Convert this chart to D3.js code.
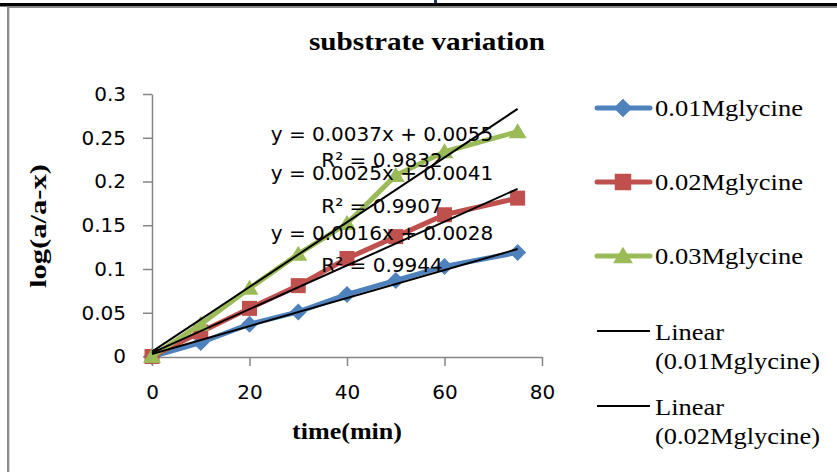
<!DOCTYPE html>
<meta charset="utf-8">
<title>substrate variation</title>
<script src="https://d3js.org/d3.v7.min.js"></script>
<style>
body { margin: 0; background: white; }
svg { display: block; }
</style>
<body>
<div id="my_dataviz"></div>
<script>
// data
var times = [0, 10, 20, 30, 40, 50, 60, 75];
var seriesNames = ["0.01Mglycine", "0.02Mglycine", "0.03Mglycine"];
var glycine001 = [0, 0.016, 0.037, 0.051, 0.071, 0.087, 0.103, 0.119];
var glycine002 = [0, 0.028, 0.055, 0.081, 0.112, 0.137, 0.162, 0.181];
var glycine003 = [0, 0.037, 0.078, 0.117, 0.152, 0.207, 0.234, 0.257];
var slopes = [0.0016, 0.0025, 0.0037];
var intercepts = [0.0028, 0.0041, 0.0055];
var rSquared = ["0.9944", "0.9907", "0.9832"];
var xTicks = [0, 20, 40, 60, 80];
var yTicks = [0, 0.05, 0.1, 0.15, 0.2, 0.25, 0.3];

var colors = ["#4F81BD", "#C0504D", "#9BBB59"];
var shapes = ["diamond", "square", "triangle"];

var width = 837, height = 472;

var svg = d3.select("#my_dataviz")
  .append("svg")
    .attr("width", width)
    .attr("height", height);

// frame bits at top and left
svg.append("rect").attr("x", 0).attr("y", 3).attr("width", width).attr("height", 3.5).attr("fill", "#000");
svg.append("rect").attr("x", 7).attr("y", 6.5).attr("width", width - 7).attr("height", 1.5).attr("fill", "#8c8c8c");
svg.append("rect").attr("x", 7).attr("y", 6.5).attr("width", 2).attr("height", height).attr("fill", "#8c8c8c");
svg.append("rect").attr("x", 9).attr("y", 8).attr("width", 1).attr("height", height).attr("fill", "#d8d8d8");
svg.append("rect").attr("x", 434).attr("y", 0).attr("width", 3).attr("height", 3).attr("fill", "#1f3864");

// scales
var x = d3.scaleLinear().domain([0, 80]).range([152, 542]);
var y = d3.scaleLinear().domain([0, 0.3]).range([356.5, 94]);

var sansFont = "DejaVu Sans";
var serifFont = "Liberation Serif";

// title
svg.append("text")
  .attr("x", 427).attr("y", 50)
  .attr("text-anchor", "middle")
  .attr("font-family", serifFont).attr("font-weight", "bold").attr("font-size", 25)
  .attr("textLength", 236).attr("lengthAdjust", "spacingAndGlyphs")
  .text("substrate variation");

// axes
var yAxis = svg.append("g")
  .attr("transform", "translate(152,0)")
  .call(d3.axisLeft(y).tickValues(yTicks).tickFormat(String).tickSize(9).tickSizeOuter(0).tickPadding(17));
var xAxis = svg.append("g")
  .attr("transform", "translate(0,357)")
  .call(d3.axisBottom(x).tickValues(xTicks).tickSize(9).tickSizeOuter(0).tickPadding(19));

[xAxis, yAxis].forEach(function(g) {
  g.attr("font-family", sansFont).attr("font-size", 20);
  g.selectAll("path, line").attr("stroke", "#868686").attr("stroke-width", 1.5);
  g.selectAll("text").attr("fill", "#000");
});

// axis titles
svg.append("text")
  .attr("x", 347).attr("y", 439)
  .attr("text-anchor", "middle")
  .attr("font-family", serifFont).attr("font-weight", "bold").attr("font-size", 24)
  .attr("textLength", 110).attr("lengthAdjust", "spacingAndGlyphs")
  .text("time(min)");
svg.append("text")
  .attr("transform", "translate(46,226) rotate(-90)")
  .attr("text-anchor", "middle")
  .attr("font-family", serifFont).attr("font-weight", "bold").attr("font-size", 24)
  .attr("textLength", 124).attr("lengthAdjust", "spacingAndGlyphs")
  .text("log(a/a-x)");

// marker shape paths
function markerPath(shape) {
  if (shape == "diamond") return "M0,-8.5L8.5,0L0,8.5L-8.5,0Z";
  if (shape == "square") return "M-7.5,-7.5H7.5V7.5H-7.5Z";
  return "M0,-8.5L9,6.5H-9Z";
}

var allSeries = [glycine001, glycine002, glycine003];

var line = d3.line()
  .x(function(d) { return x(d.t); })
  .y(function(d) { return y(d.v); });

allSeries.forEach(function(vals, i) {
  var pts = times.map(function(t, j) { return {t: t, v: vals[j]}; });
  svg.append("path")
    .datum(pts)
    .attr("fill", "none")
    .attr("stroke", colors[i])
    .attr("stroke-width", 5)
    .attr("stroke-linejoin", "round")
    .attr("d", line);
  svg.append("g")
    .selectAll("path")
    .data(pts)
    .enter()
    .append("path")
      .attr("d", markerPath(shapes[i]))
      .attr("transform", function(d) { return "translate(" + x(d.t) + "," + y(d.v) + ")"; })
      .attr("fill", colors[i]);
});

// linear trendlines
allSeries.forEach(function(vals, i) {
  var t0 = times[0], t1 = times[times.length - 1];
  svg.append("line")
    .attr("x1", x(t0)).attr("y1", y(slopes[i] * t0 + intercepts[i]))
    .attr("x2", x(t1)).attr("y2", y(slopes[i] * t1 + intercepts[i]))
    .attr("stroke", "#000")
    .attr("stroke-width", 2);
});

// trendline equations (placed like the original labels)
var eqBaselines = [[240, 272], [180, 213], [141, 167]];
allSeries.forEach(function(vals, i) {
  svg.append("text")
    .attr("x", 382).attr("y", eqBaselines[i][0])
    .attr("text-anchor", "middle")
    .attr("font-family", sansFont).attr("font-size", 20)
    .text("y = " + slopes[i] + "x + " + intercepts[i]);
  svg.append("text")
    .attr("x", 382).attr("y", eqBaselines[i][1])
    .attr("text-anchor", "middle")
    .attr("font-family", sansFont).attr("font-size", 20)
    .text("R² = " + rSquared[i]);
});

// legend
var legend = svg.append("g");
var legendRows = [108, 182, 256];
seriesNames.forEach(function(name, i) {
  var ly = legendRows[i];
  legend.append("line")
    .attr("x1", 597).attr("x2", 650).attr("y1", ly).attr("y2", ly)
    .attr("stroke", colors[i]).attr("stroke-width", 5).attr("stroke-linecap", "round");
  legend.append("path")
    .attr("d", markerPath(shapes[i]))
    .attr("transform", "translate(623," + ly + ") scale(1.1)")
    .attr("fill", colors[i]);
  legend.append("text")
    .attr("x", 655).attr("y", ly + 8)
    .attr("font-family", serifFont).attr("font-size", 24)
    .attr("textLength", 148).attr("lengthAdjust", "spacingAndGlyphs")
    .text(name);
});

var trendRows = [331, 406];
trendRows.forEach(function(ly, i) {
  legend.append("line")
    .attr("x1", 597).attr("x2", 650).attr("y1", ly).attr("y2", ly)
    .attr("stroke", "#000").attr("stroke-width", 2);
  legend.append("text")
    .attr("x", 655).attr("y", ly + 9)
    .attr("font-family", serifFont).attr("font-size", 24)
    .attr("textLength", 69).attr("lengthAdjust", "spacingAndGlyphs")
    .text("Linear");
  legend.append("text")
    .attr("x", 655).attr("y", ly + 38)
    .attr("font-family", serifFont).attr("font-size", 24)
    .attr("textLength", 165).attr("lengthAdjust", "spacingAndGlyphs")
    .text("(" + seriesNames[i] + ")");
});
</script>
</body>
